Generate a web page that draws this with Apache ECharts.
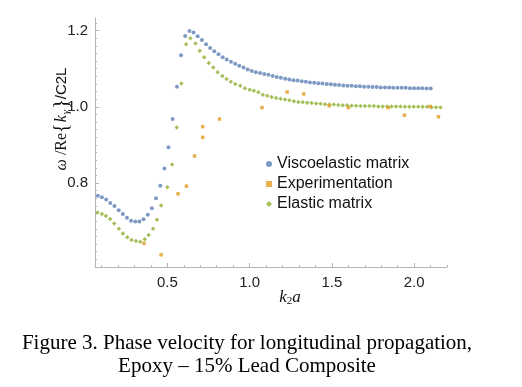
<!DOCTYPE html>
<html><head><meta charset="utf-8">
<script src="https://cdn.jsdelivr.net/npm/echarts@6/dist/echarts.min.js"></script>
<style>html,body{margin:0;padding:0;background:#fff}#c{width:522px;height:387px}</style>
</head><body><div id="c"></div>
<script>
// ---- data ----
const viscoK2a = [0.077,0.102,0.128,0.153,0.178,0.204,0.229,0.254,0.279,0.305,
  0.330,0.355,0.381,0.406,0.431,0.457,0.482,0.507,0.532,0.558,
  0.583,0.608,0.634,0.659,0.684,0.710,0.735,0.760,0.785,0.811,
  0.836,0.861,0.887,0.912,0.937,0.963,0.988,1.013,1.038,1.064,
  1.089,1.114,1.140,1.165,1.190,1.216,1.241,1.266,1.291,1.317,
  1.342,1.367,1.393,1.418,1.443,1.469,1.494,1.519,1.544,1.570,
  1.595,1.620,1.646,1.671,1.696,1.722,1.747,1.772,1.797,1.823,
  1.848,1.873,1.899,1.924,1.949,1.975,2.000,2.025,2.050,2.076,2.101];
const viscoVel = [0.767,0.763,0.757,0.748,0.740,0.729,0.719,0.709,0.701,0.699,
  0.699,0.705,0.717,0.734,0.760,0.793,0.838,0.894,0.968,1.053,
  1.135,1.186,1.199,1.195,1.185,1.175,1.164,1.154,1.146,1.138,
  1.130,1.124,1.118,1.113,1.108,1.103,1.098,1.094,1.091,1.089,
  1.086,1.084,1.081,1.078,1.076,1.074,1.072,1.070,1.069,1.067,
  1.066,1.064,1.063,1.062,1.061,1.060,1.059,1.058,1.057,1.056,
  1.055,1.055,1.054,1.054,1.053,1.053,1.052,1.052,1.051,1.051,
  1.051,1.050,1.050,1.050,1.050,1.049,1.049,1.049,1.049,1.048,1.048];
const elasticK2a = [0.075,0.102,0.126,0.152,0.177,0.205,0.230,0.256,0.282,0.309,
  0.335,0.362,0.386,0.413,0.437,0.462,0.500,0.529,0.557,0.585,
  0.614,0.640,0.671,0.697,0.724,0.752,0.779,0.805,0.834,0.860,
  0.886,0.913,0.943,0.971,1.000,1.026,1.053,
  1.080,1.107,1.134,1.161,1.188,1.215,1.242,1.269,1.296,1.323,
  1.350,1.377,1.404,1.431,1.458,1.485,1.512,1.539,1.566,1.593,
  1.620,1.647,1.674,1.701,1.728,1.755,1.782,1.809,1.836,1.863,
  1.890,1.917,1.944,1.971,1.998,2.025,2.052,2.079,2.106,2.133,2.160];
const elasticVel = [0.723,0.719,0.714,0.706,0.694,0.680,0.668,0.658,0.651,0.648,
  0.646,0.653,0.664,0.680,0.704,0.741,0.789,0.849,0.946,1.061,
  1.164,1.180,1.166,1.147,1.130,1.115,1.103,1.091,1.081,1.073,
  1.066,1.060,1.055,1.049,1.045,1.042,1.038,
  1.032,1.029,1.026,1.023,1.021,1.019,1.017,1.015,1.013,1.012,
  1.011,1.010,1.009,1.008,1.007,1.006,1.006,1.005,1.004,1.004,
  1.003,1.003,1.002,1.002,1.002,1.002,1.001,1.001,1.001,1.001,
  1.001,1.001,1.000,1.000,1.000,1.000,1.000,1.000,0.999,0.999,0.998];
const expK2a = [0.358,0.462,0.565,0.616,0.665,0.715,0.715,0.817,1.075,1.228,1.329,1.484,1.600,1.843,1.941,2.098,2.148];
const expVel = [0.642,0.612,0.772,0.792,0.871,0.920,0.948,0.968,0.998,1.039,1.034,1.003,0.998,0.998,0.978,1.001,0.974];

const seriesNames = ['Viscoelastic matrix','Experimentation','Elastic matrix'];
const xMajorTicks = [0.5,1.0,1.5,2.0];
const xMinorTicks = [0.1,0.2,0.3,0.4,0.5,0.6,0.7,0.8,0.9,1.0,1.1,1.2,1.3,1.4,1.5,1.6,1.7,1.8,1.9,2.0,2.1,2.2];
const yMajorTicks = [0.8,1.0,1.2];
const yMinorTicks = [0.6,0.62,0.64,0.66,0.68,0.7,0.72,0.74,0.76,0.78,0.8,0.82,0.84,0.86,0.88,0.9,0.92,0.94,0.96,0.98,
  1.0,1.02,1.04,1.06,1.08,1.1,1.12,1.14,1.16,1.18,1.2,1.22];

// ---- chart ----
const zip = (a,b) => a.map((v,i) => [v, b[i]]);
const X_MIN = 0.06, X_MAX = 2.2, Y_MIN = 0.58, Y_MAX = 1.233;
const axisColor = '#b4b4b4';
const labelStyle = {fontSize: 15, fontFamily: 'Liberation Sans, Arial, sans-serif', color: '#222'};

const chart = echarts.init(document.getElementById('c'));
chart.setOption({
  animation: false,
  grid: {left: 95, right: 75, top: 18, bottom: 120},
  xAxis: [
    {type: 'value', min: X_MIN, max: X_MAX,
     axisLine: {show: true, onZero: false, lineStyle: {color: axisColor}},
     splitLine: {show: false},
     axisTick: {show: true, inside: true, length: 4, customValues: xMajorTicks, lineStyle: {color: axisColor}},
     axisLabel: Object.assign({customValues: xMajorTicks, margin: 8, formatter: v => v.toFixed(1)}, labelStyle)},
    {type: 'value', min: X_MIN, max: X_MAX, position: 'bottom',
     axisLine: {show: false, onZero: false}, splitLine: {show: false},
     axisTick: {show: true, inside: true, length: 2, customValues: xMinorTicks, lineStyle: {color: axisColor}},
     axisLabel: {show: false}}
  ],
  yAxis: [
    {type: 'value', min: Y_MIN, max: Y_MAX,
     axisLine: {show: true, onZero: false, lineStyle: {color: axisColor}},
     splitLine: {show: false},
     axisTick: {show: true, inside: true, length: 4, customValues: yMajorTicks, lineStyle: {color: axisColor}},
     axisLabel: Object.assign({customValues: yMajorTicks, margin: 7, formatter: v => v.toFixed(1)}, labelStyle)},
    {type: 'value', min: Y_MIN, max: Y_MAX, position: 'left',
     axisLine: {show: false, onZero: false}, splitLine: {show: false},
     axisTick: {show: true, inside: true, length: 2, customValues: yMinorTicks, lineStyle: {color: axisColor}},
     axisLabel: {show: false}}
  ],
  legend: {
    orient: 'vertical', left: 261, top: 151, itemWidth: 6, itemHeight: 6, itemGap: 4,
    textStyle: {fontSize: 16, lineHeight: 16, fontFamily: 'Liberation Sans, Arial, sans-serif', color: '#111'},
    data: [{name: seriesNames[0], icon: 'circle'}, {name: seriesNames[1], icon: 'rect'}, {name: seriesNames[2], icon: 'diamond'}]
  },
  series: [
    {type: 'scatter', name: seriesNames[0], data: zip(viscoK2a, viscoVel), symbol: 'circle', symbolSize: 4,
     itemStyle: {color: '#5E81B5'}},
    {type: 'scatter', name: seriesNames[2], data: zip(elasticK2a, elasticVel), symbol: 'diamond', symbolSize: 4.5,
     itemStyle: {color: '#8FB032'}},
    {type: 'scatter', name: seriesNames[1], data: zip(expK2a, expVel), symbol: 'rect', symbolSize: 3.5,
     itemStyle: {color: '#E19C24'}}
  ],
  graphic: [
    {type: 'text', x: 62, y: 119, rotation: Math.PI / 2,
     style: {
       text: '{w|ω}{r| /Re}{{k|k}{g|γ}}{s|/C2L}',
       font: '20px Liberation Serif', fill: '#111', align: 'center', verticalAlign: 'middle',
       rich: {
         w: {fontSize: 16, fontFamily: 'Liberation Serif', fontStyle: 'italic', fill: '#111'},
         r: {fontSize: 16, fontFamily: 'Liberation Serif', fill: '#111'},
         k: {fontSize: 16, fontFamily: 'Liberation Serif', fontStyle: 'italic', fill: '#111', padding: [0, 1, 0, 1]},
         g: {fontSize: 11, fontFamily: 'Liberation Serif', fontStyle: 'italic', fill: '#111', verticalAlign: 'bottom', padding: [0, 1, 0, 0]},
         s: {fontSize: 15, fontFamily: 'Liberation Sans', fill: '#111'}
       }
     }},
    {type: 'text', x: 290, y: 298,
     style: {
       text: '{k|k}{n|2}{k|a}', align: 'center', verticalAlign: 'middle',
       rich: {
         k: {fontSize: 17, fontFamily: 'Liberation Serif', fontStyle: 'italic', fill: '#111'},
         n: {fontSize: 11, fontFamily: 'Liberation Serif', fill: '#111', verticalAlign: 'bottom'}
       }
     }},
    {type: 'text', x: 247, y: 355,
     style: {
       text: 'Figure 3. Phase velocity for longitudinal propagation,\nEpoxy – 15% Lead Composite',
       font: '21px Liberation Serif', fill: '#000', align: 'center', verticalAlign: 'middle', lineHeight: 23
     }}
  ]
});
</script>
</body></html>
